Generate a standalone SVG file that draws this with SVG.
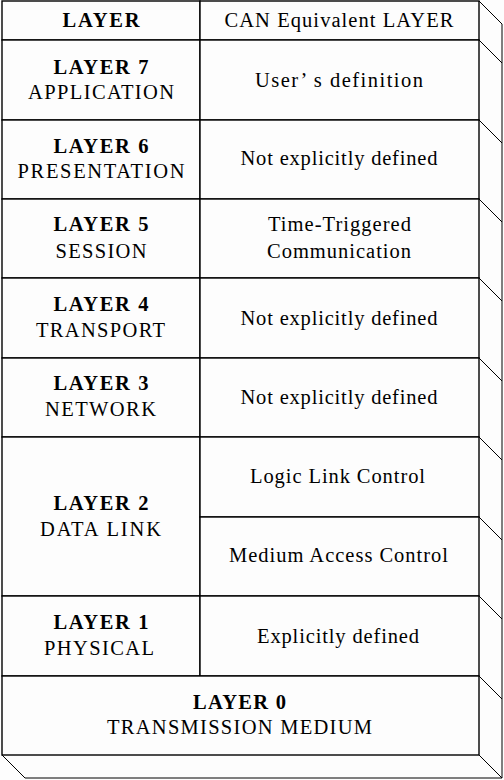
<svg xmlns="http://www.w3.org/2000/svg" width="504" height="780" viewBox="0 0 504 780">
<style>
.cell{fill:#fdfdfd;stroke:#000;stroke-width:1.4}
.d{stroke:#000;stroke-width:1;fill:none}
text{font-family:"Liberation Serif","Times New Roman",serif;font-size:20.5px;fill:#000;text-anchor:middle}
.b{font-weight:bold}
</style>
<rect x="0" y="0" width="504" height="780" fill="#fdfdfd"/>
<g id="depth">
<path class="d" d="M479,1 L502,24 L502,778 L25,778 L2,755 M479,40 L502,63 M479,120 L502,143 M479,199 L502,222 M479,278 L502,301 M479,358 L502,381 M479,437 L502,460 M479,517 L502,540 M479,596 L502,619 M479,676 L502,699 M479,755 L502,778"/>
</g>
<g id="hdr-layer"><rect class="cell" x="2" y="1" width="198" height="39"/><text class="b" x="101" y="27" textLength="77" lengthAdjust="spacing">LAYER</text></g>
<g id="hdr-can"><rect class="cell" x="200" y="1" width="279" height="39"/><text x="339" y="27" textLength="229" lengthAdjust="spacing">CAN Equivalent LAYER</text></g>
<g id="layer7"><rect class="cell" x="2" y="40" width="198" height="80"/><text class="b" x="101" y="73.5" textLength="95" lengthAdjust="spacing">LAYER 7</text><text x="101" y="99" textLength="146" lengthAdjust="spacing">APPLICATION</text></g>
<g id="can7"><rect class="cell" x="200" y="40" width="279" height="80"/><text x="339" y="86.5" textLength="168" lengthAdjust="spacing">User’ s definition</text></g>
<g id="layer6"><rect class="cell" x="2" y="120" width="198" height="79"/><text class="b" x="101" y="153" textLength="95" lengthAdjust="spacing">LAYER 6</text><text x="101" y="178" textLength="167" lengthAdjust="spacing">PRESENTATION</text></g>
<g id="can6"><rect class="cell" x="200" y="120" width="279" height="79"/><text x="339" y="164.5" textLength="197" lengthAdjust="spacing">Not explicitly defined</text></g>
<g id="layer5"><rect class="cell" x="2" y="199" width="198" height="79"/><text class="b" x="101" y="231" textLength="95" lengthAdjust="spacing">LAYER 5</text><text x="101" y="258" textLength="91" lengthAdjust="spacing">SESSION</text></g>
<g id="can5"><rect class="cell" x="200" y="199" width="279" height="79"/><text x="339.5" y="231" textLength="143" lengthAdjust="spacing">Time-Triggered</text><text x="339" y="258" textLength="144" lengthAdjust="spacing">Communication</text></g>
<g id="layer4"><rect class="cell" x="2" y="278" width="198" height="80"/><text class="b" x="101" y="311" textLength="95" lengthAdjust="spacing">LAYER 4</text><text x="100.5" y="337" textLength="129" lengthAdjust="spacing">TRANSPORT</text></g>
<g id="can4"><rect class="cell" x="200" y="278" width="279" height="80"/><text x="339" y="324.5" textLength="197" lengthAdjust="spacing">Not explicitly defined</text></g>
<g id="layer3"><rect class="cell" x="2" y="358" width="198" height="79"/><text class="b" x="101" y="390" textLength="95" lengthAdjust="spacing">LAYER 3</text><text x="100.5" y="416" textLength="111" lengthAdjust="spacing">NETWORK</text></g>
<g id="can3"><rect class="cell" x="200" y="358" width="279" height="79"/><text x="339" y="403.5" textLength="197" lengthAdjust="spacing">Not explicitly defined</text></g>
<g id="layer2"><rect class="cell" x="2" y="437" width="198" height="159"/><text class="b" x="101" y="510" textLength="95" lengthAdjust="spacing">LAYER 2</text><text x="100.5" y="536" textLength="121" lengthAdjust="spacing">DATA LINK</text></g>
<g id="can2-llc"><rect class="cell" x="200" y="437" width="279" height="80"/><text x="337.5" y="483" textLength="175" lengthAdjust="spacing">Logic Link Control</text></g>
<g id="can2-mac"><rect class="cell" x="200" y="517" width="279" height="79"/><text x="338.5" y="562" textLength="219" lengthAdjust="spacing">Medium Access Control</text></g>
<g id="layer1"><rect class="cell" x="2" y="596" width="198" height="80"/><text class="b" x="101" y="629" textLength="95" lengthAdjust="spacing">LAYER 1</text><text x="99" y="655" textLength="110" lengthAdjust="spacing">PHYSICAL</text></g>
<g id="can1"><rect class="cell" x="200" y="596" width="279" height="80"/><text x="338" y="642.5" textLength="162" lengthAdjust="spacing">Explicitly defined</text></g>
<g id="layer0"><rect class="cell" x="2" y="676" width="477" height="79"/><text class="b" x="239.5" y="709" textLength="93" lengthAdjust="spacing">LAYER 0</text><text x="239.5" y="734" textLength="265" lengthAdjust="spacing">TRANSMISSION MEDIUM</text></g>
</svg>
